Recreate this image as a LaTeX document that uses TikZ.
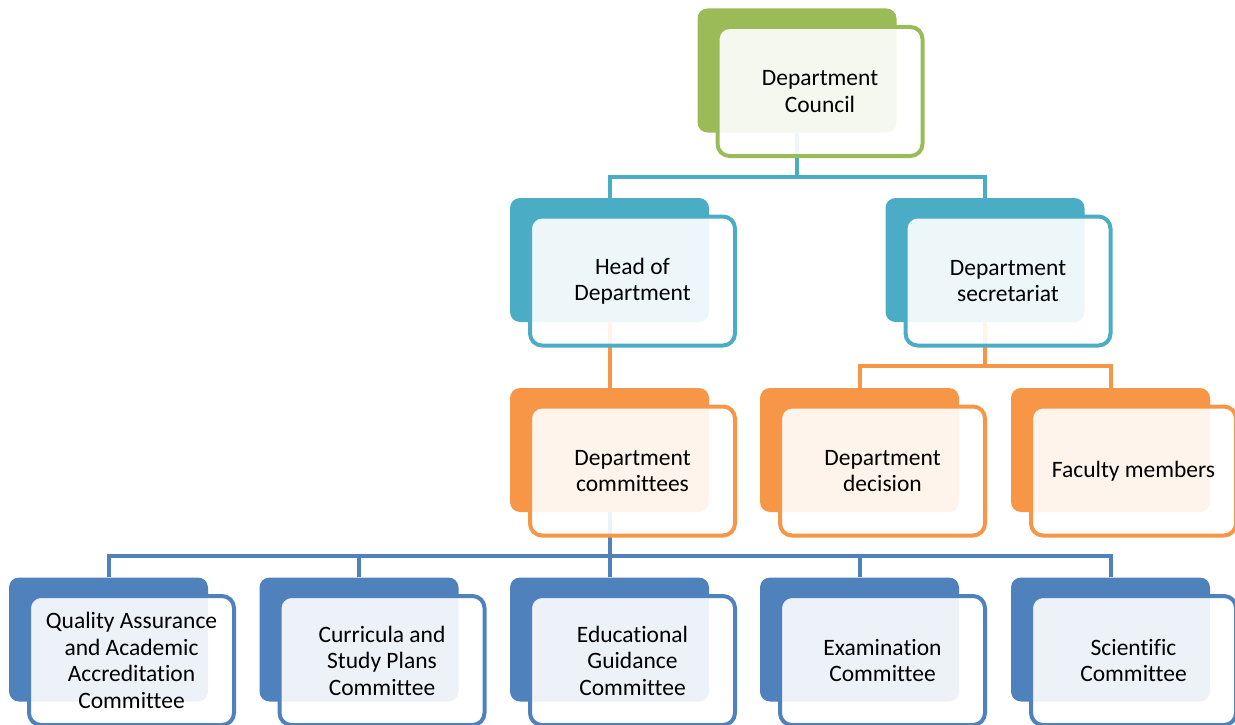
\documentclass[tikz,border=0pt]{standalone}
\usepackage{fontspec}
\setmainfont{Carlito}[Ligatures={NoCommon}]
\usetikzlibrary{backgrounds}
\definecolor{cgreen}{HTML}{9BBB59}
\definecolor{cteal}{HTML}{4BACC6}
\definecolor{corange}{HTML}{F79646}
\definecolor{cblue}{HTML}{4F81BD}
\tikzset{
 backbox/.style={fill=#1, rounded corners=10pt, minimum width=199pt, minimum height=124pt, inner sep=0pt},
 frontbox/.style={draw=#1, line width=4pt, fill=white, fill opacity=0.9, text opacity=1, draw opacity=1, rounded corners=12pt, minimum width=205pt, minimum height=129pt, inner sep=0pt, align=center, font=\fontsize{23.5}{26.5}\selectfont, text=black, xshift=23pt, yshift=-21pt},
 conn/.style={draw=#1, line width=4pt},
}
\begin{document}
\begin{tikzpicture}[x=1pt,y=-1pt]
\useasboundingbox (0,0) rectangle (1235,725);
% back boxes
\node[backbox=cgreen] (cB) at (797,70.5) {};
\node[backbox=cteal] (hB) at (609.5,260) {};
\node[backbox=cteal] (sB) at (985,260) {};
\node[backbox=corange] (dcB) at (609.5,450) {};
\node[backbox=corange] (ddB) at (859.5,450) {};
\node[backbox=corange] (fmB) at (1110.5,450) {};
\node[backbox=cblue] (q1B) at (108.5,639.5) {};
\node[backbox=cblue] (q2B) at (359,639.5) {};
\node[backbox=cblue] (q3B) at (609.5,639.5) {};
\node[backbox=cblue] (q4B) at (859.5,639.5) {};
\node[backbox=cblue] (q5B) at (1110.5,639.5) {};
% front boxes
\node[frontbox=cgreen] (cF) at (cB) {Department\\Council};
\node[frontbox=cteal] (hF) at (hB) {Head of\\Department};
\node[frontbox=cteal] (sF) at (sB) {Department\\secretariat};
\node[frontbox=corange] (dcF) at (dcB) {Department\\committees};
\node[frontbox=corange] (ddF) at (ddB) {Department\\decision};
\node[frontbox=corange] (fmF) at (fmB) {Faculty members};
\node[frontbox=cblue] (q1F) at (q1B) {Quality Assurance\\and Academic\\Accreditation\\Committee};
\node[frontbox=cblue] (q2F) at (q2B) {Curricula and\\Study Plans\\Committee};
\node[frontbox=cblue] (q3F) at (q3B) {Educational\\Guidance\\Committee};
\node[frontbox=cblue] (q4F) at (q4B) {Examination\\Committee};
\node[frontbox=cblue] (q5F) at (q5B) {Scientific\\Committee};
% connectors
\begin{scope}[on background layer]
\draw[conn=cteal] (cB.south) -- ++(0,44) -| (hB.north);
\draw[conn=cteal] (cB.south) ++(0,44) -| (sB.north);
\draw[conn=corange] (hB.south) -- (dcB.north);
\draw[conn=corange] (sB.south) -- ++(0,44) -| (ddB.north);
\draw[conn=corange] (sB.south) ++(0,44) -| (fmB.north);
\draw[conn=cblue] (dcB.south) -- ++(0,44) -| (q1B.north);
\draw[conn=cblue] (dcB.south) ++(0,44) -| (q2B.north);
\draw[conn=cblue] (dcB.south) ++(0,44) -| (q3B.north);
\draw[conn=cblue] (dcB.south) ++(0,44) -| (q4B.north);
\draw[conn=cblue] (dcB.south) ++(0,44) -| (q5B.north);
\end{scope}
\end{tikzpicture}
\end{document}
